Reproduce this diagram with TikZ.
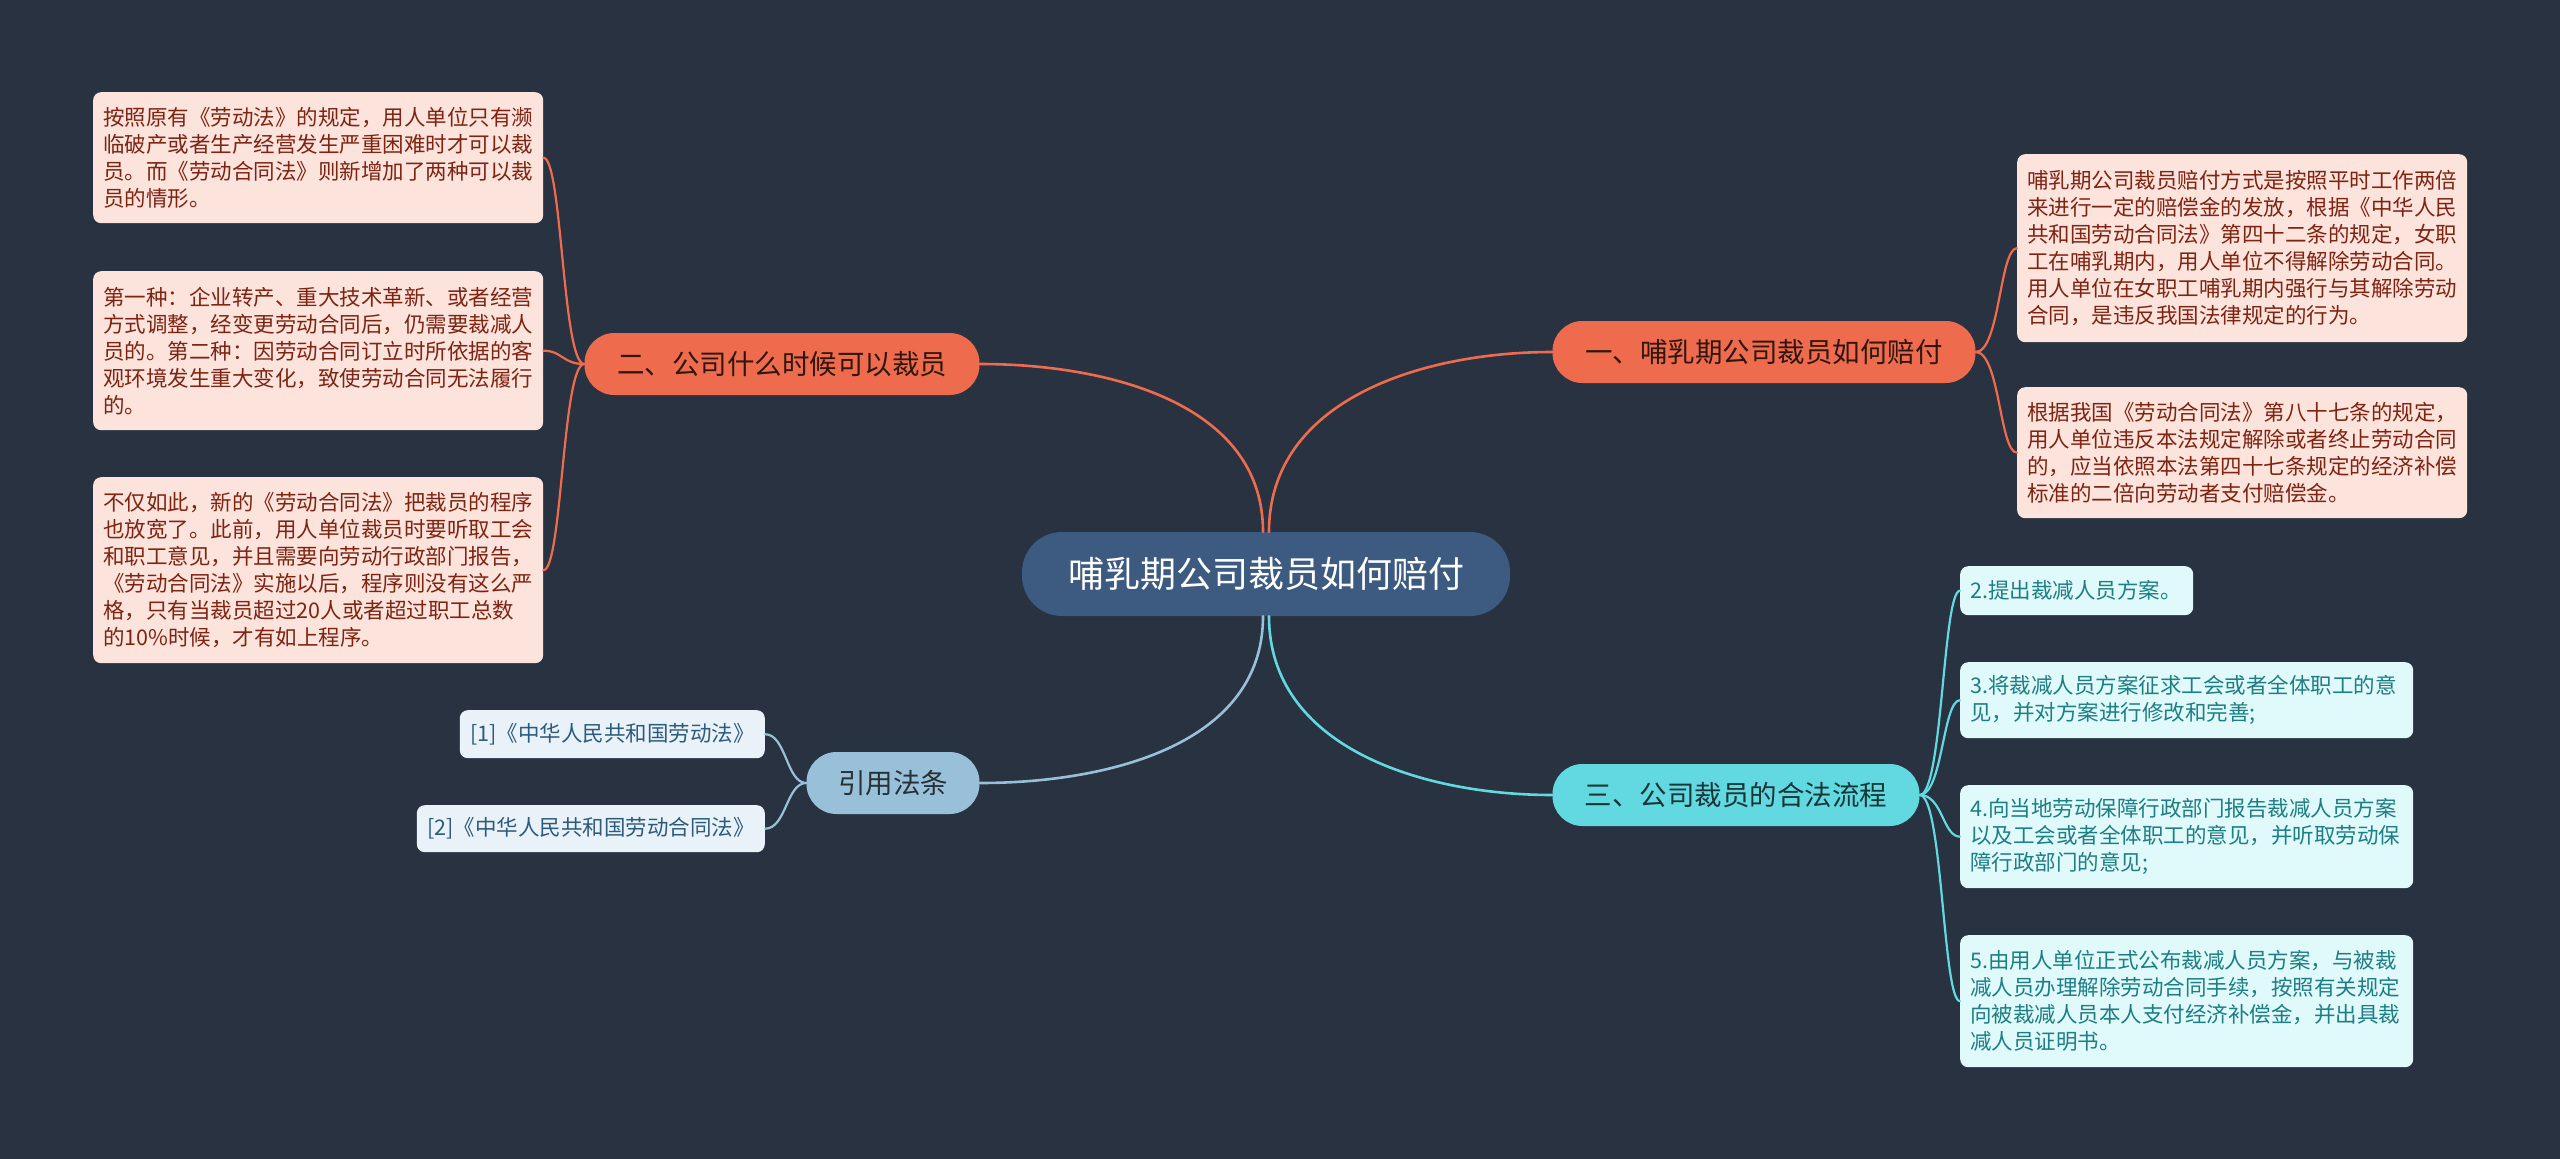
\documentclass[tikz,border=0pt]{standalone}
\usepackage{fontspec}
\newfontfamily\cjk{Noto Sans CJK SC}
\definecolor{bgnavy}{HTML}{293241}
\definecolor{rootblue}{HTML}{3D5A80}
\definecolor{sienna}{HTML}{EE6C4D}
\definecolor{aqua}{HTML}{62D9E0}
\definecolor{skyblue}{HTML}{98C1D9}
\definecolor{pinkfill}{HTML}{FCE3DC}
\definecolor{pinktext}{HTML}{7E2412}
\definecolor{aquafill}{HTML}{E0F9FA}
\definecolor{aquatext}{HTML}{1D7E84}
\definecolor{skyfill}{HTML}{E9F2F8}
\definecolor{skytext}{HTML}{2C5B7C}

\begin{document}
\begin{tikzpicture}[x=1pt,y=1pt,line cap=round,line join=round,
  every node/.style={font=\cjk,inner sep=0pt},
  rootbox/.style={fill=rootblue,text=white,rounded corners=40pt,minimum width=488pt,minimum height=84pt,font=\cjk\fontsize{36}{40}\selectfont},
  topic/.style={rounded corners=30pt,minimum height=62pt,font=\cjk\fontsize{27.5}{32}\selectfont},
  leaf/.style={rounded corners=8pt,align=left,inner xsep=10pt,font=\cjk\fontsize{21.5}{27}\selectfont},
  pinkleaf/.style={leaf,anchor=north west,fill=pinkfill,text=pinktext,text width=430pt},
  aqualeaf/.style={leaf,anchor=north west,fill=aquafill,text=aquatext,text width=433pt},
  skyleaf/.style={leaf,anchor=north east,fill=skyfill,text=skytext,align=center},
  wire/.style={line width=2.6pt},
  twig/.style={line width=2.2pt}]
  \fill[bgnavy] (0,0) rectangle (2560,-1159);
  \useasboundingbox (0,0) rectangle (2560,-1159);

  % centre and main topics
  \node[rootbox] (root) at (1266,-574) {哺乳期公司裁员如何赔付};
  \node[topic,fill=sienna,text=black!80!sienna,minimum width=423pt] (pay) at (1764,-352) {一、哺乳期公司裁员如何赔付};
  \node[topic,fill=sienna,text=black!80!sienna,minimum width=395pt] (when) at (782,-364) {二、公司什么时候可以裁员};
  \node[topic,fill=aqua,text=black!75!aqua,minimum width=367pt] (proc) at (1736,-795) {三、公司裁员的合法流程};
  \node[topic,fill=skyblue,text=black!75!skyblue,minimum width=173pt] (law) at (893,-783) {引用法条};

  % leaves
  \node[pinkleaf,minimum height=131pt] (w1) at (93,-92) {按照原有《劳动法》的规定，用人单位只有濒\\临破产或者生产经营发生严重困难时才可以裁\\员。而《劳动合同法》则新增加了两种可以裁\\员的情形。};
  \node[pinkleaf,minimum height=159pt] (w2) at (93,-271) {第一种：企业转产、重大技术革新、或者经营\\方式调整，经变更劳动合同后，仍需要裁减人\\员的。第二种：因劳动合同订立时所依据的客\\观环境发生重大变化，致使劳动合同无法履行\\的。};
  \node[pinkleaf,minimum height=186pt] (w3) at (93,-477) {不仅如此，新的《劳动合同法》把裁员的程序\\也放宽了。此前，用人单位裁员时要听取工会\\和职工意见，并且需要向劳动行政部门报告，\\《劳动合同法》实施以后，程序则没有这么严\\格，只有当裁员超过20人或者超过职工总数\\的10\%时候，才有如上程序。};
  \node[pinkleaf,minimum height=188pt] (p1) at (2017,-154) {哺乳期公司裁员赔付方式是按照平时工作两倍\\来进行一定的赔偿金的发放，根据《中华人民\\共和国劳动合同法》第四十二条的规定，女职\\工在哺乳期内，用人单位不得解除劳动合同。\\用人单位在女职工哺乳期内强行与其解除劳动\\合同，是违反我国法律规定的行为。};
  \node[pinkleaf,minimum height=131pt] (p2) at (2017,-387) {根据我国《劳动合同法》第八十七条的规定，\\用人单位违反本法规定解除或者终止劳动合同\\的，应当依照本法第四十七条规定的经济补偿\\标准的二倍向劳动者支付赔偿金。};
  \node[aqualeaf,text width=213pt,minimum height=49pt] (s2) at (1960,-566) {2.提出裁减人员方案。};
  \node[aqualeaf,minimum height=76pt] (s3) at (1960,-662) {3.将裁减人员方案征求工会或者全体职工的意\\见，并对方案进行修改和完善;};
  \node[aqualeaf,minimum height=103pt] (s4) at (1960,-785) {4.向当地劳动保障行政部门报告裁减人员方案\\以及工会或者全体职工的意见，并听取劳动保\\障行政部门的意见;};
  \node[aqualeaf,minimum height=132pt] (s5) at (1960,-935) {5.由用人单位正式公布裁减人员方案，与被裁\\减人员办理解除劳动合同手续，按照有关规定\\向被裁减人员本人支付经济补偿金，并出具裁\\减人员证明书。};
  \node[skyleaf,minimum width=305pt,minimum height=48pt] (l1) at (765,-710) {[1]《中华人民共和国劳动法》};
  \node[skyleaf,minimum width=348pt,minimum height=47pt] (l2) at (765,-805) {[2]《中华人民共和国劳动合同法》};

  % centre to topics
  \draw[wire,sienna] ([xshift=3pt]root.north) to[out=90,in=180] (pay.west);
  \draw[wire,sienna] ([xshift=-3pt]root.north) to[out=90,in=0] (when.east);
  \draw[wire,aqua] ([xshift=3pt]root.south) to[out=-90,in=180] (proc.west);
  \draw[wire,skyblue] ([xshift=-3pt]root.south) to[out=-90,in=0] (law.east);

  % topics to leaves
  \coordinate (kp) at ([xshift=24pt]pay.east);
  \coordinate (kw) at ([xshift=-22pt]when.west);
  \coordinate (ks) at ([xshift=23pt]proc.east);
  \coordinate (kl) at ([xshift=-20pt]law.west);
  \foreach \n in {p1,p2}
    \draw[twig,sienna] (pay.east) .. controls (kp) and (kp |- \n.west) .. (\n.west);
  \foreach \n in {w1,w2,w3}
    \draw[twig,sienna] (when.west) .. controls (kw) and (kw |- \n.east) .. (\n.east);
  \foreach \n in {s2,s3,s4,s5}
    \draw[twig,aqua] (proc.east) .. controls (ks) and (ks |- \n.west) .. (\n.west);
  \foreach \n in {l1,l2}
    \draw[twig,skyblue] (law.west) .. controls (kl) and (kl |- \n.east) .. (\n.east);
\end{tikzpicture}
\end{document}
